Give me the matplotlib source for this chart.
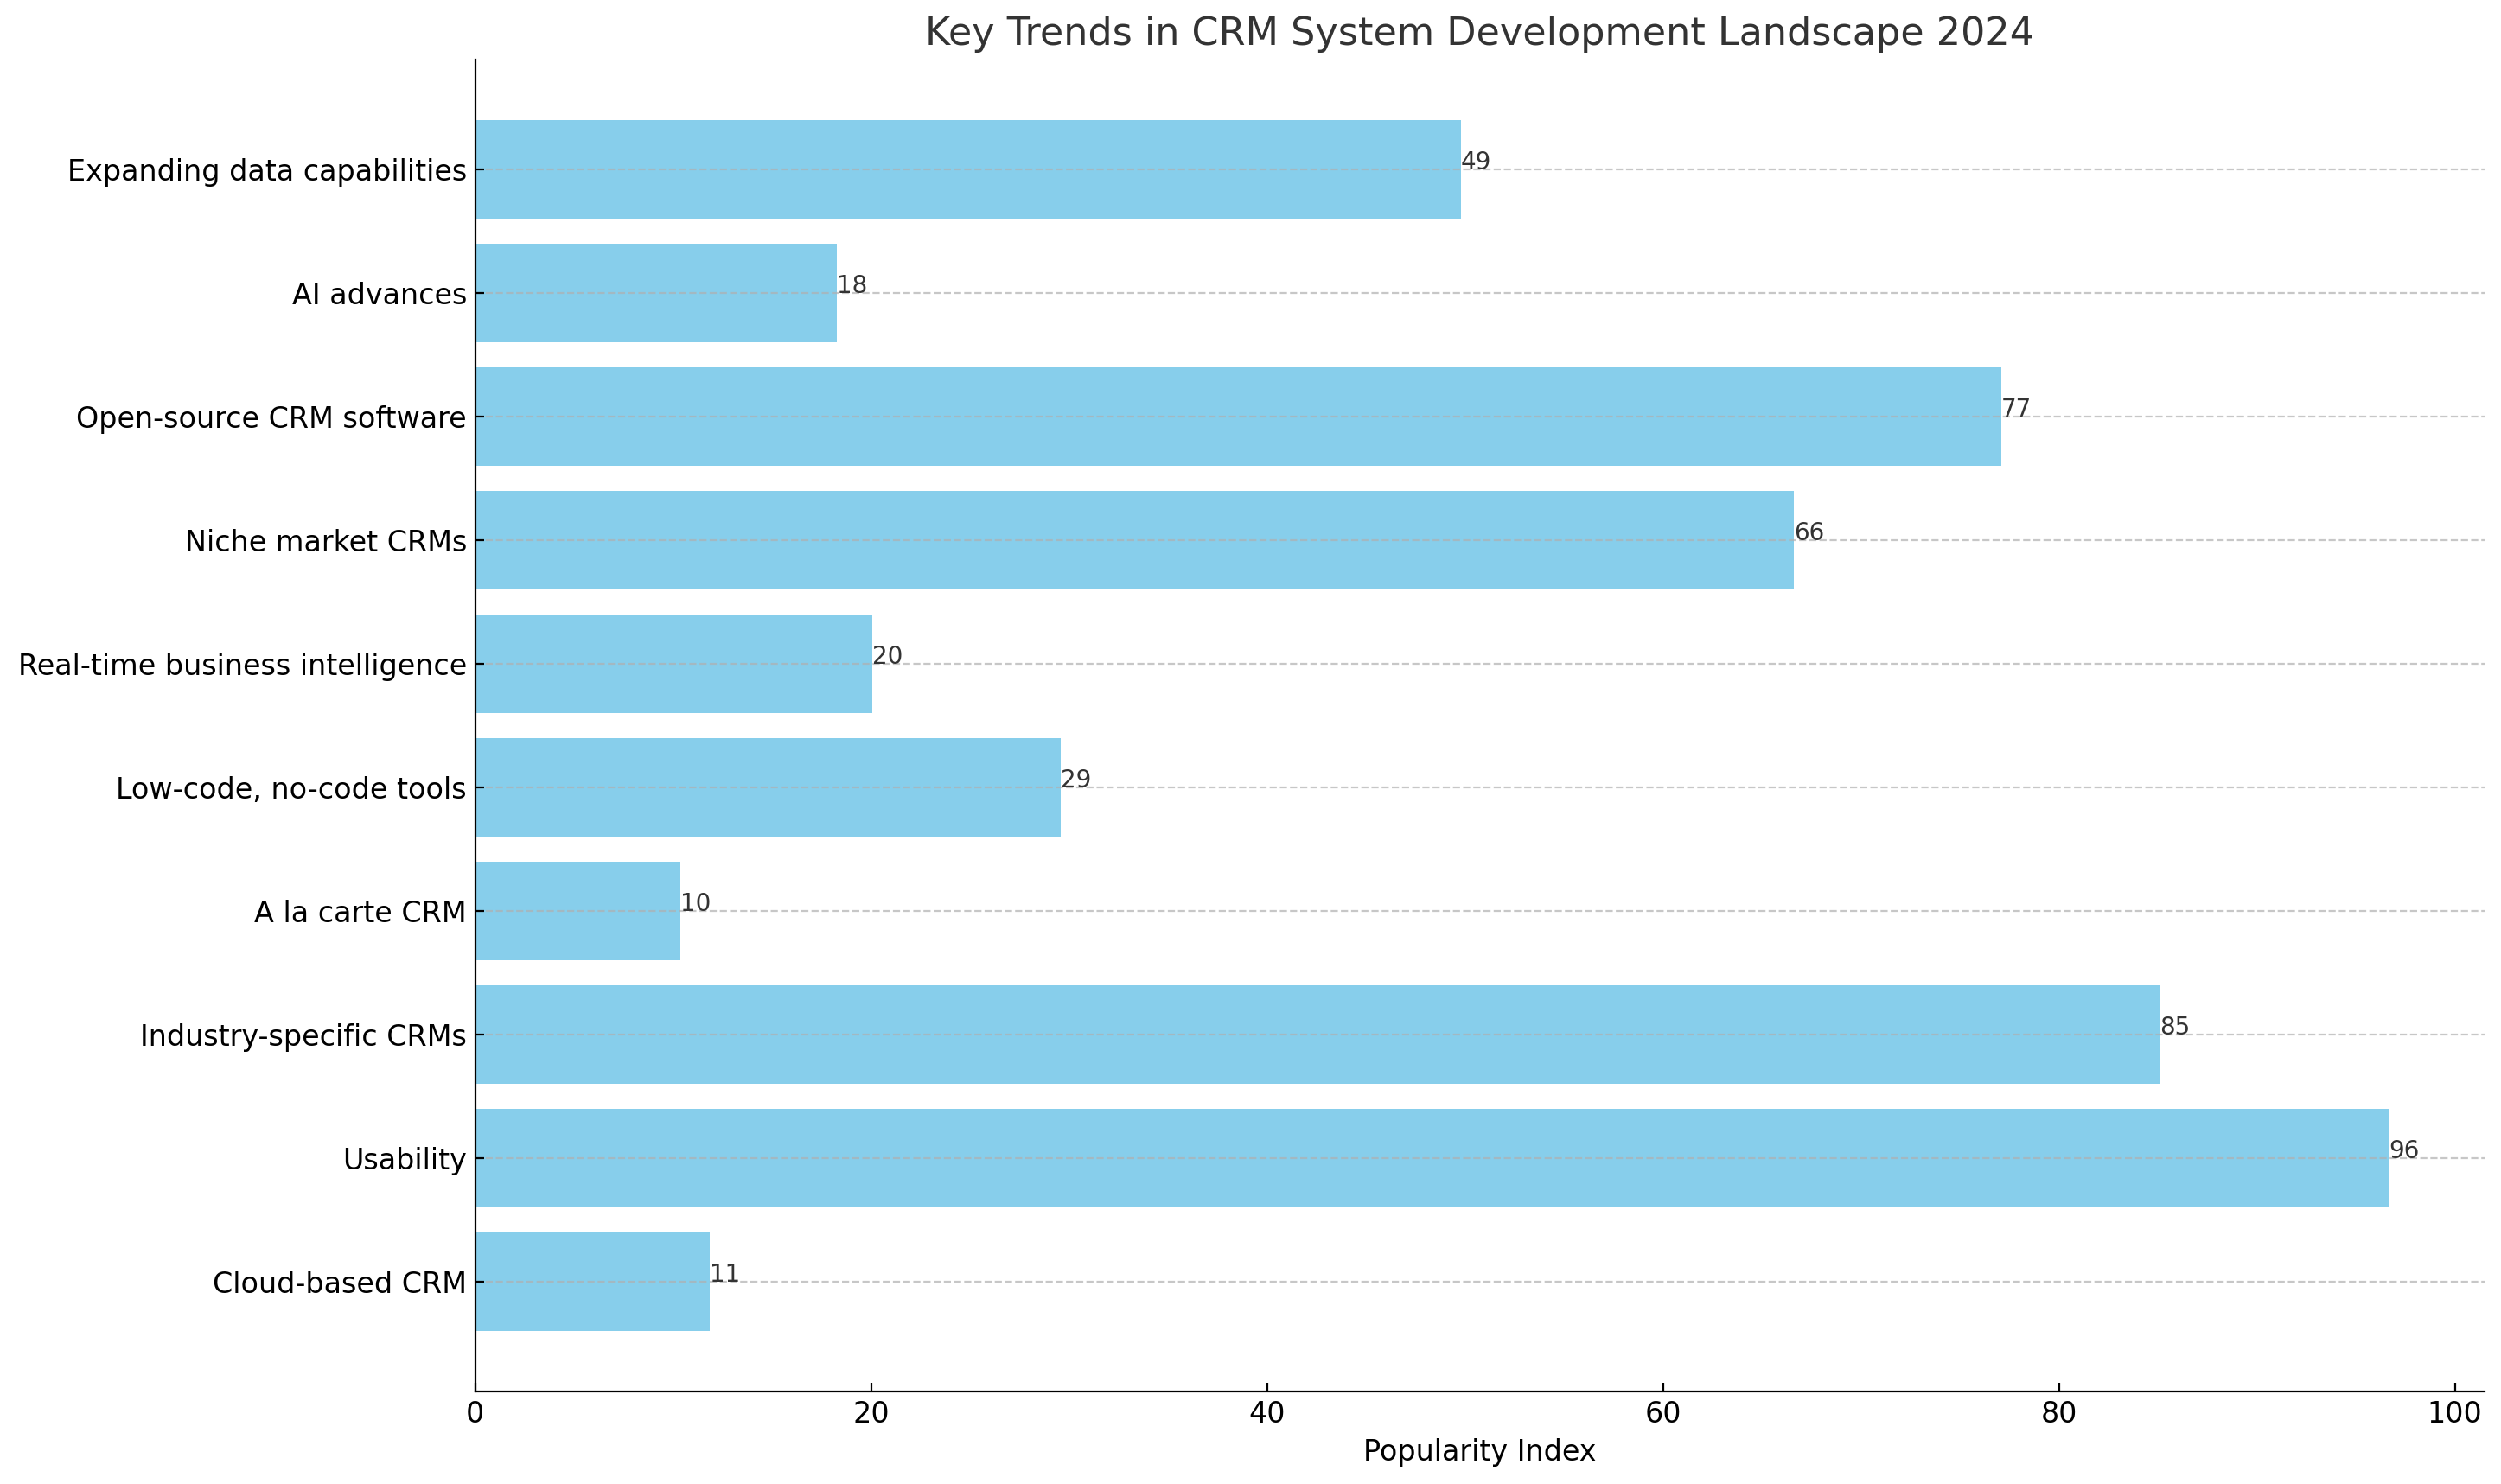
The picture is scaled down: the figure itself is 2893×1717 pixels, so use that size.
import matplotlib
matplotlib.use("Agg")
import matplotlib.pyplot as plt

# trend names, bottom to top as barh draws them
trends = [
    "Cloud-based CRM",
    "Usability",
    "Industry-specific CRMs",
    "A la carte CRM",
    "Low-code, no-code tools",
    "Real-time business intelligence",
    "Niche market CRMs",
    "Open-source CRM software",
    "AI advances",
    "Expanding data capabilities",
]
popularity = [11.86, 96.66, 85.1, 10.37, 29.58, 20.06, 66.6, 77.08, 18.27, 49.8]

fig, ax = plt.subplots(figsize=(14.465, 8.585), dpi=200)
fig.subplots_adjust(left=0.19, right=0.9934, top=0.9598, bottom=0.0623)

bars = ax.barh(trends, popularity, color="skyblue")

# value labels at the bar ends
for bar in bars:
    width = bar.get_width()
    ax.text(width, bar.get_y() + bar.get_height() / 2, f"{int(width)}",
            fontsize=10, color="#333333")

ax.set_title("Key Trends in CRM System Development Landscape 2024",
             fontsize=16, color="#333333")
ax.set_xlabel("Popularity Index", fontsize=12)
ax.tick_params(axis="both", labelsize=12, direction="in")

ax.grid(axis="y", linestyle="--", alpha=0.7)
ax.spines["top"].set_visible(False)
ax.spines["right"].set_visible(False)

fig.savefig("out.png", dpi=200)
